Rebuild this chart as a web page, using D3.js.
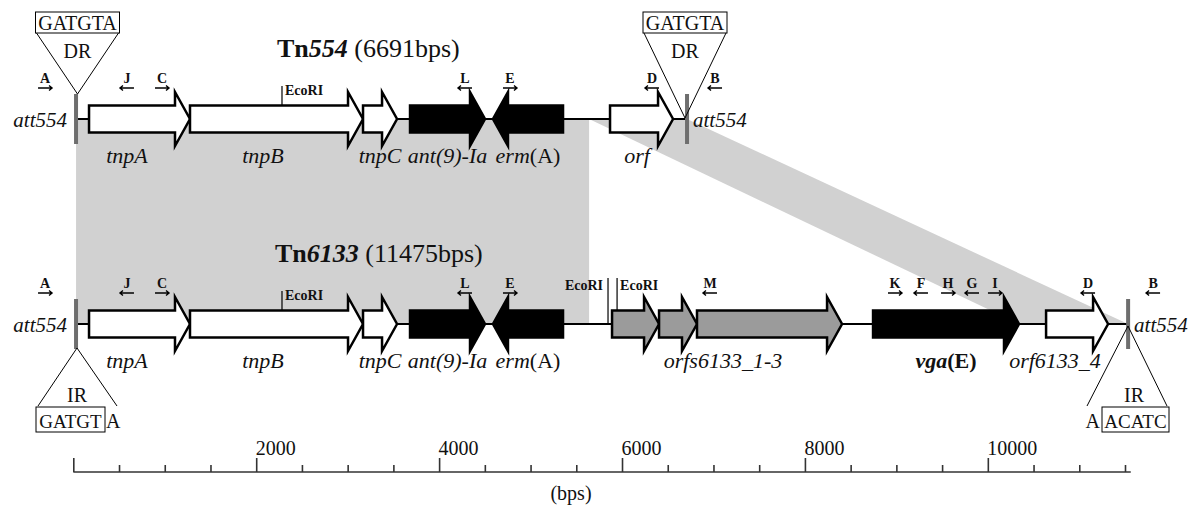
<!DOCTYPE html>
<html lang="en">
<head>
<meta charset="UTF-8">
<title>Tn554 / Tn6133</title>
<script src="https://d3js.org/d3.v7.min.js"></script>
<style>
  body { margin: 0; background: #fff; }
  text { font-family: "Liberation Serif", "Times New Roman", serif; fill: #111; }
</style>
</head>
<body>
<script>
// all coordinates in bp, read against the ruler at the bottom
const tn554Ends = [30, 6711];
const tn6133Ends = [30, 11534];

const tn554Genes = [
  { start: 172, end: 1276, strand: 1, kind: "tn", label: [["tnpA", "i"]], labelAt: 587 },
  { start: 1276, end: 3168, strand: 1, kind: "tn", label: [["tnpB", "i"]], labelAt: 2074 },
  { start: 3168, end: 3540, strand: 1, kind: "tn", label: [["tnpC", "i"]] },
  { start: 3682, end: 4502, strand: 1, kind: "res", label: [["ant(9)-Ia", "i"]] },
  { start: 4589, end: 5355, strand: -1, kind: "res", label: [["erm", "i"], ["(A)", ""]] },
  { start: 5869, end: 6558, strand: 1, kind: "tn", label: [["orf", "i"]], labelAt: 6164 }
];

const tn6133Genes = [
  { start: 172, end: 1276, strand: 1, kind: "tn", label: [["tnpA", "i"]], labelAt: 587 },
  { start: 1276, end: 3168, strand: 1, kind: "tn", label: [["tnpB", "i"]], labelAt: 2074 },
  { start: 3168, end: 3540, strand: 1, kind: "tn", label: [["tnpC", "i"]] },
  { start: 3682, end: 4502, strand: 1, kind: "res", label: [["ant(9)-Ia", "i"]] },
  { start: 4589, end: 5355, strand: -1, kind: "res", label: [["erm", "i"], ["(A)", ""]] },
  { start: 5891, end: 6405, strand: 1, kind: "orf", label: [] },
  { start: 6405, end: 6820, strand: 1, kind: "orf", label: [] },
  { start: 6820, end: 8406, strand: 1, kind: "orf", label: [["orfs6133_1-3", "i"]], labelAt: 7104 },
  { start: 8745, end: 10341, strand: 1, kind: "res", label: [["vga", "bi"], ["(E)", "b"]] },
  { start: 10637, end: 11315, strand: 1, kind: "tn", label: [["orf6133_4", "i"]], labelAt: 10735 }
];

const tn554Primers = [
  { id: "A", at: -309, dir: 1 }, { id: "J", at: 587, dir: -1 }, { id: "C", at: 970, dir: 1 },
  { id: "L", at: 4283, dir: -1 }, { id: "E", at: 4775, dir: 1 },
  { id: "D", at: 6328, dir: -1 }, { id: "B", at: 7017, dir: -1 }
];

const tn6133Primers = [
  { id: "A", at: -309, dir: 1 }, { id: "J", at: 587, dir: -1 }, { id: "C", at: 970, dir: 1 },
  { id: "L", at: 4283, dir: -1 }, { id: "E", at: 4775, dir: 1 }, { id: "M", at: 6962, dir: -1 },
  { id: "K", at: 8985, dir: 1 }, { id: "F", at: 9269, dir: -1 }, { id: "H", at: 9565, dir: 1 },
  { id: "G", at: 9827, dir: -1 }, { id: "I", at: 10078, dir: 1 },
  { id: "D", at: 11096, dir: -1 }, { id: "B", at: 11807, dir: -1 }
];

// EcoRI sites: side of the label, level 0 low / 1 high
const tn554Sites = [{ at: 2282, side: "right", level: 0 }];
const tn6133Sites = [
  { at: 2282, side: "right", level: 0 },
  { at: 5847, side: "left", level: 1 },
  { at: 5946, side: "right", level: 1 }
];

// shared regions between the two elements
const homology = [
  { top: [30, 5640], bottom: [30, 5640] },
  { top: [5640, 6711], bottom: [10341, 11534] }
];

const rulerMax = 11563;
const tickStep = 500;
const labelStep = 2000;

const width = 1197, height = 506;
const svg = d3.select("body").append("svg")
  .attr("width", width)
  .attr("height", height);

const x = d3.scaleLinear().domain([0, 11500]).range([73.3, 1125]);
const topY = 119, botY = 324;

const fillOf = d3.scaleOrdinal()
  .domain(["tn", "res", "orf"])
  .range(["#ffffff", "#000000", "#9b9b9b"]);

// grey homology shading
svg.selectAll("polygon.hom")
  .data(homology)
  .enter().append("polygon")
  .attr("class", "hom")
  .attr("points", d => [
    [x(d.top[0]), topY], [x(d.top[1]), topY],
    [x(d.bottom[1]), botY], [x(d.bottom[0]), botY]
  ].join(" "))
  .attr("fill", "#d1d1d1");

function arrowPath(d, y) {
  const h = 15, bh = 13.5, hh = 27;
  const a = x(d.start), b = x(d.end);
  if (d.strand > 0) {
    const n = b - h;
    return `M${a},${y - bh}H${n}V${y - hh}L${b},${y}L${n},${y + hh}V${y + bh}H${a}Z`;
  }
  const n = a + h;
  return `M${b},${y - bh}H${n}V${y - hh}L${a},${y}L${n},${y + hh}V${y + bh}H${b}Z`;
}

function styledText(sel, parts) {
  sel.selectAll("tspan")
    .data(parts)
    .enter().append("tspan")
    .style("font-style", p => p[1].includes("i") ? "italic" : "normal")
    .style("font-weight", p => p[1].includes("b") ? "bold" : "normal")
    .text(p => p[0]);
}

function drawTrack(y, ends, genes, primers, sites) {
  const g = svg.append("g");

  // backbone
  g.append("line")
    .attr("x1", x(ends[0])).attr("x2", x(ends[1]))
    .attr("y1", y).attr("y2", y)
    .attr("stroke", "#000").attr("stroke-width", 2);

  // att bars
  g.selectAll("rect.att")
    .data(ends)
    .enter().append("rect")
    .attr("class", "att")
    .attr("x", d => x(d) - 2)
    .attr("y", y - 25)
    .attr("width", 4)
    .attr("height", 50)
    .attr("fill", "#6e6e6e");

  // genes
  g.selectAll("path.gene")
    .data(genes)
    .enter().append("path")
    .attr("class", "gene")
    .attr("d", d => arrowPath(d, y))
    .attr("fill", d => fillOf(d.kind))
    .attr("stroke", "#000")
    .attr("stroke-width", 2.5)
    .attr("stroke-linejoin", "miter");

  g.selectAll("text.gene")
    .data(genes.filter(d => d.label.length))
    .enter().append("text")
    .attr("class", "gene")
    .attr("x", d => x(d.labelAt !== undefined ? d.labelAt : (d.start + d.end) / 2))
    .attr("y", y + 44)
    .attr("text-anchor", "middle")
    .style("font-size", "22px")
    .each(function (d) { styledText(d3.select(this), d.label); });

  // att labels
  g.append("text")
    .attr("x", x(ends[0]) - 9).attr("y", y + 8)
    .attr("text-anchor", "end")
    .style("font-size", "21px").style("font-style", "italic")
    .text("att554");
  g.append("text")
    .attr("x", x(ends[1]) + 6).attr("y", y + 8)
    .style("font-size", "21px").style("font-style", "italic")
    .text("att554");

  // primers
  const p = g.selectAll("g.primer")
    .data(primers)
    .enter().append("g")
    .attr("class", "primer")
    .attr("transform", d => `translate(${x(d.at)},${y})`);
  p.append("text")
    .attr("y", -36)
    .attr("text-anchor", "middle")
    .style("font-size", "14px").style("font-weight", "bold")
    .text(d => d.id);
  p.append("path")
    .attr("d", d => {
      const s = d.dir;
      return `M${-7 * s},-31H${7 * s}M${4 * s},-33.5L${7 * s},-31L${4 * s},-28.5`;
    })
    .attr("fill", "none")
    .attr("stroke", "#000")
    .attr("stroke-width", 1.4);

  // EcoRI sites
  const s = g.selectAll("g.site")
    .data(sites)
    .enter().append("g")
    .attr("class", "site")
    .attr("transform", d => `translate(${x(d.at)},${y})`);
  s.append("line")
    .attr("y1", d => d.level ? -46 : -33)
    .attr("y2", d => genes.some(gn => gn.start < d.at && gn.end > d.at) ? -13.5 : 0)
    .attr("stroke", "#000").attr("stroke-width", 1.2);
  s.append("text")
    .attr("x", d => d.side === "left" ? -5 : 3)
    .attr("y", d => d.level ? -34 : -24)
    .attr("text-anchor", d => d.side === "left" ? "end" : "start")
    .style("font-size", "14px").style("font-weight", "bold")
    .text("EcoRI");
}

drawTrack(topY, tn554Ends, tn554Genes, tn554Primers, tn554Sites);
drawTrack(botY, tn6133Ends, tn6133Genes, tn6133Primers, tn6133Sites);

// titles
svg.append("text").attr("x", 277).attr("y", 57).style("font-size", "26px")
  .call(t => styledText(t, [["Tn", "b"], ["554", "bi"], [" (6691bps)", ""]]));
svg.append("text").attr("x", 275).attr("y", 262).style("font-size", "26px")
  .call(t => styledText(t, [["Tn", "b"], ["6133", "bi"], [" (11475bps)", ""]]));

// top DR boxes
[[77.5, 94], [685, 118]].forEach(([cx, ay]) => {
  const g = svg.append("g");
  g.append("path")
    .attr("d", `M${cx - 41},33L${cx},${ay}L${cx + 41},33`)
    .attr("fill", "none").attr("stroke", "#000").attr("stroke-width", 1);
  g.append("rect")
    .attr("x", cx - 42).attr("y", 12).attr("width", 84).attr("height", 21)
    .attr("fill", "#fff").attr("stroke", "#000").attr("stroke-width", 1);
  g.append("text").attr("x", cx).attr("y", 30).attr("text-anchor", "middle")
    .style("font-size", "20px").text("GATGTA");
  g.append("text").attr("x", cx).attr("y", 58).attr("text-anchor", "middle")
    .style("font-size", "20px").text("DR");
});

// bottom IR, left end
{
  const g = svg.append("g");
  g.append("path")
    .attr("d", "M38,406L77,348L117,406")
    .attr("fill", "none").attr("stroke", "#000").attr("stroke-width", 1);
  g.append("text").attr("x", 77).attr("y", 402).attr("text-anchor", "middle")
    .style("font-size", "20px").text("IR");
  g.append("rect").attr("x", 36).attr("y", 407).attr("width", 69).attr("height", 25)
    .attr("fill", "#fff").attr("stroke", "#000").attr("stroke-width", 1);
  g.append("text").attr("x", 70.5).attr("y", 428).attr("text-anchor", "middle")
    .style("font-size", "19px").text("GATGT");
  g.append("text").attr("x", 106).attr("y", 428)
    .style("font-size", "20px").text("A");
}

// bottom IR, right end
{
  const g = svg.append("g");
  g.append("path")
    .attr("d", "M1087,406L1128,326L1167,406")
    .attr("fill", "none").attr("stroke", "#000").attr("stroke-width", 1);
  g.append("text").attr("x", 1134).attr("y", 402).attr("text-anchor", "middle")
    .style("font-size", "20px").text("IR");
  g.append("rect").attr("x", 1102).attr("y", 407).attr("width", 67).attr("height", 25)
    .attr("fill", "#fff").attr("stroke", "#000").attr("stroke-width", 1);
  g.append("text").attr("x", 1135.5).attr("y", 428).attr("text-anchor", "middle")
    .style("font-size", "19px").text("ACATC");
  g.append("text").attr("x", 1100).attr("y", 428).attr("text-anchor", "end")
    .style("font-size", "20px").text("A");
}

// ruler
const axisG = svg.append("g")
  .attr("transform", "translate(0,472)")
  .call(d3.axisTop(x)
    .tickValues(d3.range(0, 11501, tickStep))
    .tickSizeOuter(0)
    .tickFormat(d => (d > 0 && d % labelStep === 0) ? d : ""));

axisG.select(".domain")
  .attr("d", `M${x(0)},0H${x(rulerMax)}`)
  .attr("stroke", "#333").attr("stroke-width", 1.6);
axisG.selectAll(".tick line")
  .attr("y2", d => d % labelStep === 0 ? -14 : -7)
  .attr("stroke", "#333").attr("stroke-width", 1.6);
axisG.selectAll(".tick text")
  .attr("y", -17).attr("dy", null).attr("x", -1)
  .attr("text-anchor", "start")
  .style("font-family", "'Liberation Serif', 'Times New Roman', serif")
  .style("font-size", "20px")
  .attr("fill", "#111");

svg.append("text")
  .attr("x", 571).attr("y", 500)
  .attr("text-anchor", "middle")
  .style("font-size", "20px")
  .text("(bps)");
</script>
</body>
</html>
